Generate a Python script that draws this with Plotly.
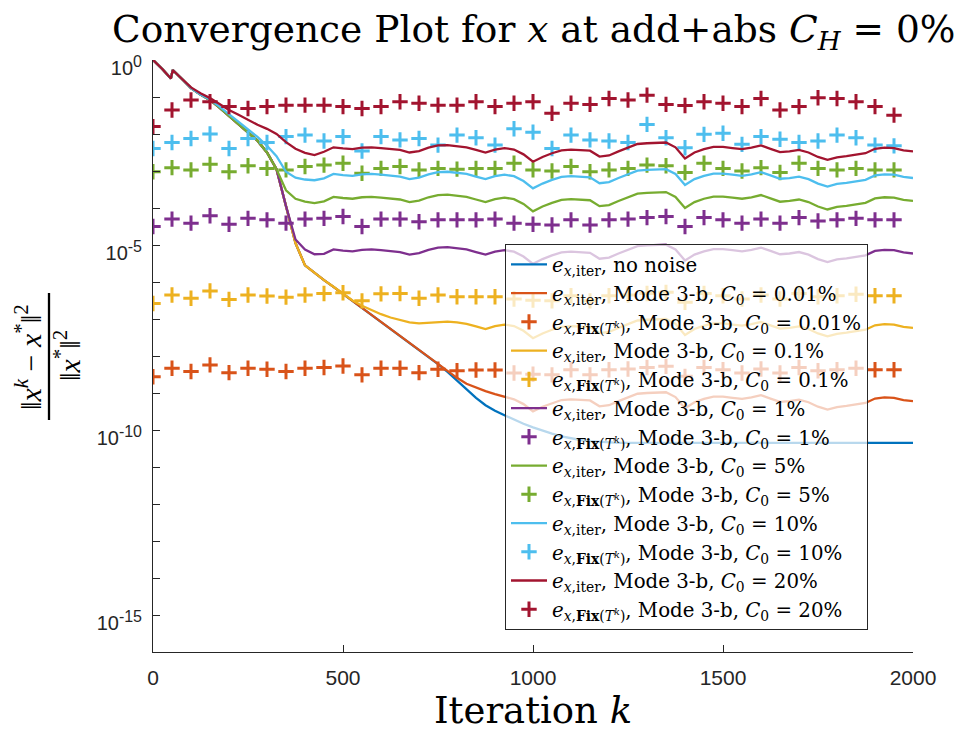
import numpy as np
import plotly.graph_objects as go

# ---------------- data (log10 of relative error) ----------------
K_LINE = [0, 25, 47, 52] + list(range(75, 2001, 25))
K_MARK = list(range(0, 1951, 50))

common_head = [0, -0.25, -0.50, -0.27, -0.50]

red_line = common_head + [-0.74, -0.90, -1.03, -1.19, -1.35, -1.48, -1.62, -1.75, -1.86, -2.00, -2.22, -2.40, -2.51, -2.57,
    -2.48, -2.36, -2.39, -2.41, -2.37, -2.36, -2.38, -2.40, -2.43, -2.50,
    -2.46, -2.37, -2.31, -2.30, -2.32, -2.36, -2.43, -2.50, -2.42, -2.38,
    -2.42, -2.55, -2.75, -2.62, -2.52, -2.44, -2.42, -2.43, -2.45, -2.61,
    -2.58, -2.47, -2.38, -2.27, -2.25, -2.25, -2.23, -2.36, -2.66, -2.50,
    -2.41, -2.35, -2.35, -2.38, -2.41, -2.37, -2.31, -2.40, -2.49, -2.47,
    -2.43, -2.50, -2.62, -2.70, -2.63, -2.60, -2.57, -2.52, -2.40, -2.37,
    -2.38, -2.44, -2.47]

cyan_line = common_head + [-0.76, -0.93, -1.07, -1.26, -1.46, -1.68, -1.88, -2.08, -2.32, -2.60, -3.02, -3.18, -3.23, -3.25,
    -3.20, -3.08, -3.11, -3.13, -3.09, -3.08, -3.10, -3.12, -3.15, -3.22,
    -3.18, -3.09, -3.03, -3.02, -3.04, -3.08, -3.15, -3.22, -3.14, -3.10,
    -3.14, -3.27, -3.47, -3.34, -3.24, -3.16, -3.14, -3.15, -3.17, -3.33,
    -3.30, -3.19, -3.10, -2.99, -2.97, -2.97, -2.95, -3.08, -3.38, -3.22,
    -3.13, -3.07, -3.07, -3.10, -3.13, -3.09, -3.03, -3.12, -3.21, -3.19,
    -3.15, -3.22, -3.34, -3.42, -3.35, -3.32, -3.29, -3.24, -3.12, -3.09,
    -3.10, -3.16, -3.19]

green_line = common_head + [-0.76, -0.93, -1.08, -1.29, -1.51, -1.74, -1.96, -2.18, -2.50, -2.95, -3.52, -3.75, -3.83, -3.87,
    -3.82, -3.70, -3.73, -3.75, -3.71, -3.70, -3.72, -3.74, -3.77, -3.84,
    -3.80, -3.71, -3.65, -3.64, -3.66, -3.70, -3.77, -3.84, -3.76, -3.72,
    -3.76, -3.89, -4.09, -3.96, -3.86, -3.78, -3.76, -3.77, -3.79, -3.95,
    -3.92, -3.81, -3.72, -3.61, -3.59, -3.59, -3.57, -3.70, -4.00, -3.84,
    -3.75, -3.69, -3.69, -3.72, -3.75, -3.71, -3.65, -3.74, -3.83, -3.81,
    -3.77, -3.84, -3.96, -4.04, -3.97, -3.94, -3.91, -3.86, -3.74, -3.71,
    -3.72, -3.78, -3.81]

purple_line = common_head + [-0.76, -0.93, -1.08, -1.29, -1.51, -1.74, -1.96, -2.18, -2.50, -2.95, -3.95, -4.85, -5.12, -5.25,
    -5.24, -5.12, -5.15, -5.17, -5.13, -5.12, -5.14, -5.16, -5.19, -5.26,
    -5.22, -5.13, -5.07, -5.06, -5.08, -5.12, -5.19, -5.26, -5.18, -5.14,
    -5.18, -5.31, -5.51, -5.38, -5.28, -5.20, -5.18, -5.19, -5.21, -5.37,
    -5.34, -5.23, -5.14, -5.03, -5.01, -5.01, -4.99, -5.12, -5.42, -5.26,
    -5.17, -5.11, -5.11, -5.14, -5.17, -5.13, -5.07, -5.16, -5.25, -5.23,
    -5.19, -5.26, -5.38, -5.46, -5.39, -5.36, -5.33, -5.28, -5.16, -5.13,
    -5.14, -5.20, -5.23]

yellow_line = common_head + [-0.76, -0.93, -1.08, -1.29, -1.51, -1.74, -1.96, -2.18, -2.50, -2.95, -3.95, -4.95, -5.55, -5.76,
    -5.95, -6.13, -6.32, -6.50, -6.64, -6.76, -6.87, -6.96, -7.03, -7.09,
    -7.12, -7.10, -7.08, -7.07, -7.09, -7.13, -7.20, -7.27, -7.19, -7.15,
    -7.19, -7.32, -7.52, -7.39, -7.29, -7.21, -7.19, -7.20, -7.22, -7.38,
    -7.35, -7.24, -7.15, -7.04, -7.02, -7.02, -7.00, -7.13, -7.43, -7.27,
    -7.18, -7.12, -7.12, -7.15, -7.18, -7.14, -7.08, -7.17, -7.26, -7.24,
    -7.20, -7.27, -7.39, -7.47, -7.40, -7.37, -7.34, -7.29, -7.17, -7.14,
    -7.15, -7.21, -7.24]

orange_line = common_head + [-0.76, -0.93, -1.08, -1.29, -1.51, -1.74, -1.96, -2.18, -2.50, -2.95, -3.95, -4.95, -5.55, -5.76,
    -5.95, -6.13, -6.32, -6.51, -6.70, -6.88, -7.07, -7.26, -7.45, -7.64,
    -7.83, -8.02, -8.22, -8.40, -8.59, -8.75, -8.86, -8.95, -9.03, -9.10,
    -9.17, -9.30, -9.50, -9.37, -9.27, -9.19, -9.17, -9.18, -9.20, -9.36,
    -9.33, -9.22, -9.13, -9.02, -9.00, -9.00, -8.98, -9.11, -9.41, -9.25,
    -9.16, -9.10, -9.10, -9.13, -9.16, -9.12, -9.06, -9.15, -9.24, -9.22,
    -9.18, -9.25, -9.37, -9.45, -9.38, -9.35, -9.32, -9.27, -9.15, -9.12,
    -9.13, -9.19, -9.22]

blue_line = common_head + [-0.76, -0.93, -1.08, -1.29, -1.51, -1.74, -1.96, -2.18, -2.50, -2.95, -3.95, -4.95, -5.55, -5.76,
    -5.95, -6.13, -6.32, -6.51, -6.70, -6.88, -7.07, -7.26, -7.45, -7.64,
    -7.83, -8.02, -8.22, -8.43, -8.66, -8.90, -9.13, -9.33, -9.48, -9.60,
    -9.72, -9.83, -9.93, -10.02, -10.10, -10.17, -10.23, -10.27, -10.30, -10.32,
    -10.34, -10.35, -10.35, -10.35, -10.35, -10.35, -10.35, -10.35, -10.35, -10.35,
    -10.35, -10.35, -10.35, -10.35, -10.35, -10.35, -10.35, -10.35, -10.35, -10.35,
    -10.35, -10.35, -10.35, -10.35, -10.35, -10.35, -10.35, -10.35, -10.35, -10.35,
    -10.35, -10.35, -10.35]

orange_mark = [-8.56, -8.33, -8.42, -8.24, -8.45, -8.33, -8.36, -8.42, -8.33, -8.31,
    -8.27, -8.51, -8.33, -8.33, -8.45, -8.36, -8.40, -8.38, -8.38,
    -8.46, -8.49, -8.51, -8.37, -8.51, -8.37, -8.35, -8.31, -8.28, -8.55,
    -8.31, -8.37, -8.46, -8.35, -8.46, -8.31, -8.40, -8.37, -8.33, -8.37, -8.37]
yellow_mark = [-6.58, -6.35, -6.44, -6.24, -6.47, -6.35, -6.38, -6.41, -6.35, -6.31,
    -6.29, -6.51, -6.32, -6.31, -6.44, -6.35, -6.40, -6.40, -6.40,
    -6.46, -6.49, -6.51, -6.37, -6.51, -6.37, -6.35, -6.31, -6.28, -6.55,
    -6.31, -6.37, -6.46, -6.35, -6.46, -6.31, -6.40, -6.37, -6.33, -6.37, -6.37]
purple_mark = [-4.50, -4.30, -4.41, -4.21, -4.44, -4.28, -4.32, -4.41, -4.30, -4.28,
    -4.23, -4.50, -4.30, -4.30, -4.37, -4.32, -4.32, -4.32, -4.30, -4.41, -4.44,
    -4.46, -4.32, -4.46, -4.32, -4.30, -4.26, -4.23, -4.50, -4.26, -4.32,
    -4.41, -4.30, -4.41, -4.26, -4.35, -4.32, -4.28, -4.32, -4.32]
green_mark = [-3.02, -2.91, -2.97, -2.82, -3.02, -2.86, -2.93, -2.97, -2.88, -2.84,
    -2.79, -3.06, -2.93, -2.88, -2.97, -2.93, -2.95, -2.93, -2.93, -2.79, -2.97,
    -3.00, -2.88, -3.02, -2.97, -2.93, -2.84, -2.86, -3.04, -2.79, -2.93,
    -3.00, -2.91, -3.04, -2.79, -2.93, -2.97, -2.93, -2.97, -2.97]
cyan_mark = [-2.39, -2.23, -2.12, -2.00, -2.39, -2.12, -2.23, -2.07, -2.03, -2.19,
    -2.07, -2.46, -2.07, -2.16, -2.12, -2.30, -2.03, -2.10, -2.30, -1.86, -1.95,
    -2.39, -2.03, -2.16, -2.19, -2.23, -1.74, -2.10, -2.37, -2.01, -1.98,
    -2.28, -2.07, -2.14, -2.23, -2.19, -2.03, -2.10, -2.30, -2.32]
red_mark = [-1.80, -1.35, -1.08, -1.13, -1.26, -1.31, -1.26, -1.22, -1.22, -1.22,
    -1.26, -1.31, -1.26, -1.13, -1.17, -1.22, -1.22, -1.13, -1.26, -1.17, -1.13,
    -1.44, -1.17, -1.20, -1.04, -1.08, -0.95, -1.20, -1.23, -1.13, -1.17,
    -1.26, -1.04, -1.35, -1.26, -1.02, -1.04, -1.13, -1.26, -1.49]

NOISE_LABELS = ["0.01%", "0.1%", "1%", "5%", "10%", "20%"]
X_TICKS = [0, 500, 1000, 1500, 2000]
Y_TICK_EXP = [0, -5, -10, -15]

COLORS = ["#0072BD", "#D95319", "#EDB120", "#7E2F8E", "#77AC30", "#4DBEEE", "#A2142F"]

# ---------------- figure ----------------
SERIF_W = "DejaVu Serif, serif"
SERIF = "Liberation Serif, DejaVu Serif, serif"
SANS = "Liberation Sans, Arial, sans-serif"

E_ITER = "<i>e</i><sub><i>x</i>,iter</sub>"
E_FIX = "<i>e</i><sub><i>x</i>,<b>Fix</b>(<i>T</i><sup><i>k</i></sup>)</sub>"

fig = go.Figure()
kl = np.array(K_LINE)
km = np.array(K_MARK)

def add_line(vals, color, name, grp):
    fig.add_trace(go.Scatter(x=kl, y=10.0 ** np.array(vals), mode="lines",
                             line=dict(color=color, width=2.3), name=name,
                             legendgroup=grp))

def add_mark(vals, color, name, grp):
    fig.add_trace(go.Scatter(x=km, y=10.0 ** np.array(vals), mode="markers",
                             marker=dict(symbol="cross-thin", size=11,
                                         line=dict(color=color, width=3)),
                             name=name, legendgroup=grp))

add_line(blue_line, COLORS[0], f"{E_ITER}, no noise", "g0")
lines = [orange_line, yellow_line, purple_line, green_line, cyan_line, red_line]
marks = [orange_mark, yellow_mark, purple_mark, green_mark, cyan_mark, red_mark]
for i, (ln, mk, lab) in enumerate(zip(lines, marks, NOISE_LABELS)):
    c = COLORS[i + 1]
    add_line(ln, c, f"{E_ITER}, Mode 3-b, <i>C</i><sub>0</sub> = {lab}", f"l{i}")
    add_mark(mk, c, f"{E_FIX}, Mode 3-b, <i>C</i><sub>0</sub> = {lab}", f"m{i}")

AX = "#262626"
ytext = [f"10<sup><span style=\"font-size:16px\">{e}</span></sup>" for e in Y_TICK_EXP]
fig.update_layout(
    width=961, height=736,
    margin=dict(l=153, r=48, t=60, b=84),
    paper_bgcolor="white", plot_bgcolor="white",
    showlegend=True,
    legend=dict(x=(505 - 153) / 760, y=(652 - 244) / 592, xanchor="left", yanchor="top",
                bgcolor="rgba(255,255,255,0.72)", bordercolor=AX, borderwidth=1,
                font=dict(family=SERIF_W, size=19.8, color="black"),
                tracegroupgap=0, itemwidth=36),
    xaxis=dict(range=[0, 2000], tickvals=X_TICKS, showline=True, linecolor=AX, linewidth=1,
               ticks="inside", ticklen=7, tickcolor=AX, showgrid=False, zeroline=False,
               ticklabelstandoff=7,
               tickfont=dict(family=SANS, size=21, color=AX)),
    yaxis=dict(type="log", range=[-16, 0],
               tickvals=[10.0 ** e for e in Y_TICK_EXP],
               ticktext=ytext,
               showline=True, linecolor=AX, linewidth=1,
               ticks="inside", ticklen=7, tickcolor=AX, showgrid=False, zeroline=False,
               ticklabelstandoff=6, ticklabelshift=8,
               tickfont=dict(family=SANS, size=20, color=AX),
               minor=dict(tickvals=[10.0 ** e for e in range(-16, 1)], ticks="inside",
                          ticklen=7, tickcolor=AX, showgrid=False)),
)

fig.add_annotation(text="Convergence Plot for <i>x</i> at add+abs <i>C</i><sub><i>H</i></sub> = 0%",
                   xref="paper", yref="paper", x=0.5, y=(652 - 32) / 592,
                   xanchor="center", yanchor="middle", showarrow=False,
                   font=dict(family=SERIF_W, size=37.5, color="black"))
fig.add_annotation(text="Iteration <i>k</i>", xref="paper", yref="paper",
                   x=0.5, y=(652 - 711) / 592, xanchor="center", yanchor="middle",
                   showarrow=False, borderpad=0, font=dict(family=SERIF_W, size=37, color="black"))
fig.add_annotation(text="‖<i>x</i><sup><i>k</i></sup> − <i>x</i><sup>*</sup>‖<sup>2</sup>",
                   xref="paper", yref="paper", x=(28 - 153) / 760, y=(652 - 357) / 592,
                   xanchor="center", yanchor="middle", textangle=-90, showarrow=False,
                   font=dict(family=SERIF, size=30, color="black"))
fig.add_annotation(text="‖<i>x</i><sup>*</sup>‖<sup>2</sup>",
                   xref="paper", yref="paper", x=(67 - 153) / 760, y=(652 - 356) / 592,
                   xanchor="center", yanchor="middle", textangle=-90, showarrow=False,
                   font=dict(family=SERIF, size=30, color="black"))
fig.add_shape(type="line", xref="paper", yref="paper",
              x0=(49 - 153) / 760, x1=(49 - 153) / 760,
              y0=(652 - 420) / 592, y1=(652 - 293) / 592,
              line=dict(color="black", width=2.3))

fig.write_html("out.html")
